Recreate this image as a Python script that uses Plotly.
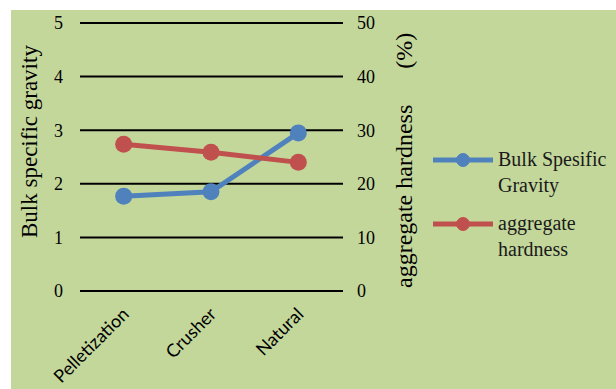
import plotly.graph_objects as go

categories = ["Pelletization", "Crusher", "Natural"]
bulk_specific_gravity = [1.77, 1.85, 2.95]
aggregate_hardness = [27.4, 25.9, 24.0]
left_ticks = [0, 1, 2, 3, 4, 5]
right_ticks = [0, 10, 20, 30, 40, 50]

W, H = 616, 389
L, R, T, B = 80, 274, 23, 98
pw, ph = W - L - R, H - T - B

BG = "#c4d79b"
BLUE = "#4f81bd"
RED = "#c0504d"
SERIF = "Liberation Serif, Times New Roman, serif"


def px(x):
    return (x - L) / pw


def py(y):
    return (H - B - y) / ph


fig = go.Figure()
fig.add_trace(go.Scatter(
    x=categories, y=bulk_specific_gravity, name="Bulk Spesific Gravity",
    mode="lines+markers", line=dict(color=BLUE, width=5),
    marker=dict(size=17, color=BLUE), yaxis="y", cliponaxis=False,
))
fig.add_trace(go.Scatter(
    x=categories, y=aggregate_hardness, name="aggregate hardness",
    mode="lines+markers", line=dict(color=RED, width=5),
    marker=dict(size=17, color=RED), yaxis="y2", cliponaxis=False,
))

shapes = [
    # white margin strips around the green chart area
    dict(type="rect", xref="paper", yref="paper", x0=px(0), x1=px(W), y0=py(0), y1=py(10),
         fillcolor="white", line_width=0, layer="below"),
    dict(type="rect", xref="paper", yref="paper", x0=px(0), x1=px(11), y0=py(0), y1=py(H),
         fillcolor="white", line_width=0, layer="below"),
]

# horizontal gridlines (including the 0 and 5 edges) with the right-axis tick marks;
# paper coordinates keep the edge lines from being clipped
for v in left_ticks:
    yp = v / left_ticks[-1]
    shapes.append(dict(type="line", xref="paper", yref="paper", x0=0, x1=px(343), y0=yp, y1=yp,
                       line=dict(color="black", width=2), layer="below"))

# legend drawn by hand
annotations = []
legend_items = [("Bulk Spesific<br>Gravity", BLUE, 160), ("aggregate<br>hardness", RED, 224)]
for text, color, yc in legend_items:
    shapes.append(dict(type="line", xref="paper", yref="paper", x0=px(433), x1=px(493),
                       y0=py(yc), y1=py(yc), line=dict(color=color, width=5)))
    shapes.append(dict(type="circle", xref="paper", yref="paper",
                       x0=px(456.5), x1=px(469.5), y0=py(yc - 6.5), y1=py(yc + 6.5),
                       fillcolor=color, line=dict(color=color, width=1)))
    annotations.append(dict(xref="paper", yref="paper", x=px(496), y=py(yc - 14),
                            text=text, showarrow=False, xanchor="left", yanchor="top",
                            align="left", font=dict(family=SERIF, size=20, color="#1a1a1a")))

annotations.append(dict(xref="paper", yref="paper", x=px(29), y=py(142),
                        xanchor="center", yanchor="middle",
                        text="Bulk specific gravity", textangle=-90, showarrow=False,
                        font=dict(family=SERIF, size=23, color="black")))
annotations.append(dict(xref="paper", yref="paper", x=px(404), y=py(161),
                        xanchor="center", yanchor="middle",
                        text="aggregate hardness" + "&nbsp;" * 6 + "(%)", textangle=-90,
                        showarrow=False, font=dict(family=SERIF, size=24, color="black")))

fig.update_layout(
    width=W, height=H,
    margin=dict(l=L, r=R, t=T, b=B, pad=0, autoexpand=False),
    paper_bgcolor=BG, plot_bgcolor=BG,
    showlegend=False,
    xaxis=dict(type="category", range=[-0.5, 2.5], showgrid=False, zeroline=False,
               showline=False, ticks="", tickangle=-45, ticklabelstandoff=8, automargin=False,
               tickfont=dict(family="Lato, Open Sans, sans-serif", size=18, color="black")),
    yaxis=dict(range=[0, 5], tickvals=left_ticks, showgrid=False, automargin=False,
               zeroline=False, showline=False, ticks="", ticklabelstandoff=16,
               tickfont=dict(family=SERIF, size=18, color="black")),
    yaxis2=dict(range=[0, 50], tickvals=right_ticks, overlaying="y", side="right",
                showgrid=False, zeroline=False, showline=False, ticks="", ticklabelstandoff=14,
                automargin=False, tickfont=dict(family=SERIF, size=18, color="black")),
    shapes=shapes,
    annotations=annotations,
)

fig.write_html("out.html")
